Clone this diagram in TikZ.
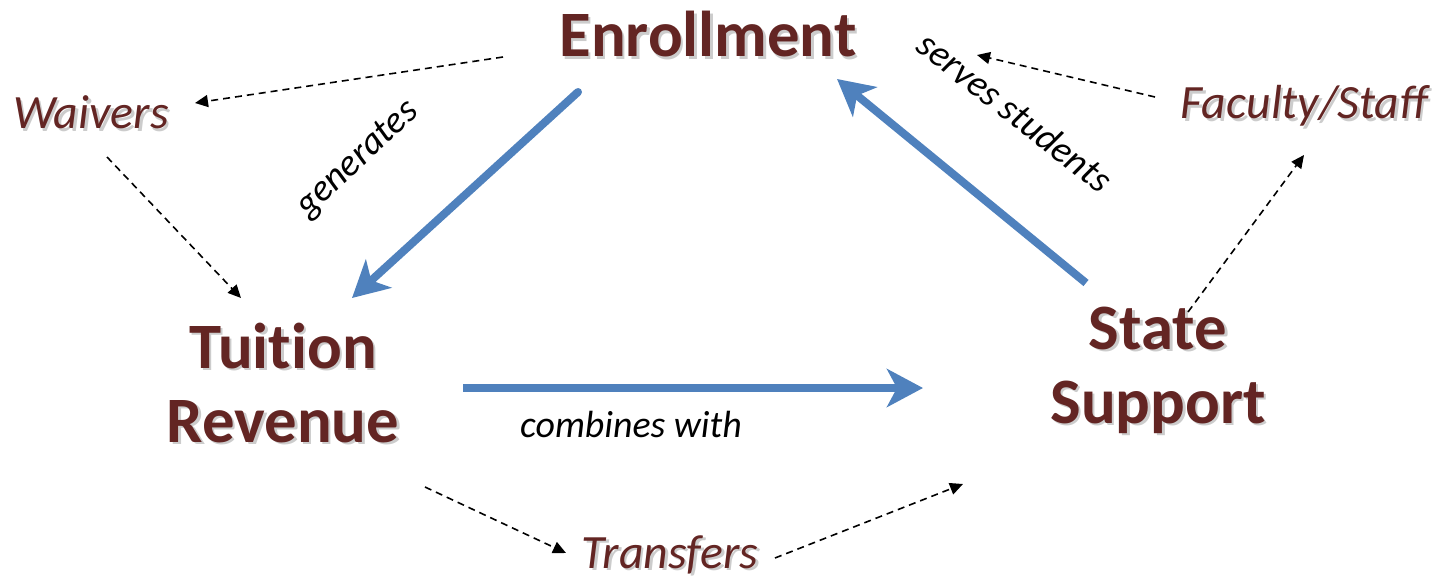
\documentclass[tikz,border=0pt]{standalone}
\usepackage{fontspec}
\setmainfont{Carlito}
\usetikzlibrary{arrows.meta}
\definecolor{maroon}{RGB}{99,37,35}
\definecolor{flowblue}{RGB}{79,129,189}
\newcommand\shadowed[4]{%
  \node[#3,text=black,opacity=0.2] at ([shift={(2.5,2.5)}]#2) {#4};
  \node[#3] (#1) at (#2) {#4};}
\begin{document}
\begin{tikzpicture}[x=1bp,y=-1bp,
  big/.style={font=\fontsize{65}{74}\selectfont\bfseries\addfontfeature{Ligatures=NoCommon}, text=maroon, align=center, inner sep=0pt, anchor=base},
  side/.style={font=\fontsize{48}{56}\selectfont\itshape, text=maroon, inner sep=0pt, anchor=base},
  lab/.style={font=\fontsize{38}{44}\selectfont\itshape, text=black, inner sep=0pt, anchor=base},
  flow/.style={draw=flowblue, line width=8bp, -{Stealth[length=36bp,width=38bp,inset=10bp]}},
  dasharrow/.style={draw=black, line width=1.6bp, dash pattern=on 7bp off 5bp, -{Triangle[length=13bp,width=12bp]}}
]
\useasboundingbox (0,0) rectangle (1441,584);

\shadowed{enroll}{708,57}{big}{Enrollment}
\shadowed{tuition}{283,442}{big}{Tuition\\Revenue}
\shadowed{state}{1158,423}{big}{State\\Support}
\shadowed{waivers}{91,129}{side}{Waivers}
\shadowed{faculty}{1304,119}{side}{Faculty/Staff}
\shadowed{transfers}{670,568}{side}{Transfers}

\node[lab] (combines) at (631,437) {combines with};
\node[lab, rotate=43] (generates) at (364,166) {generates};
\node[lab, rotate=-38] (serves) at (1007,122) {serves students};

% main flows
\draw[flow, line cap=round] ([shift={(-130,35)}]enroll.base) -- ([shift={(69,-144)}]tuition.base);
\draw[flow] ([shift={(-72,-140)}]state.base) -- ([shift={(129,22)}]enroll.base);
\draw[flow] ([shift={(180,-54)}]tuition.base) -- ([shift={(-235,-35)}]state.base);

% dashed side flows
\draw[dasharrow] ([shift={(-205,0)}]enroll.base) -- ([shift={(104,-26)}]waivers.base);
\draw[dasharrow] ([shift={(16,28)}]waivers.base) -- ([shift={(-42,-144)}]tuition.base);
\draw[dasharrow] ([shift={(-149,-22)}]faculty.base) -- ([shift={(269,-2)}]enroll.base);
\draw[dasharrow] ([shift={(30,-111)}]state.base) -- ([shift={(0,36)}]faculty.base);
\draw[dasharrow] ([shift={(142,45)}]tuition.base) -- ([shift={(-104,-15)}]transfers.base);
\draw[dasharrow] ([shift={(105,-10)}]transfers.base) -- ([shift={(-195,61)}]state.base);
\end{tikzpicture}
\end{document}
